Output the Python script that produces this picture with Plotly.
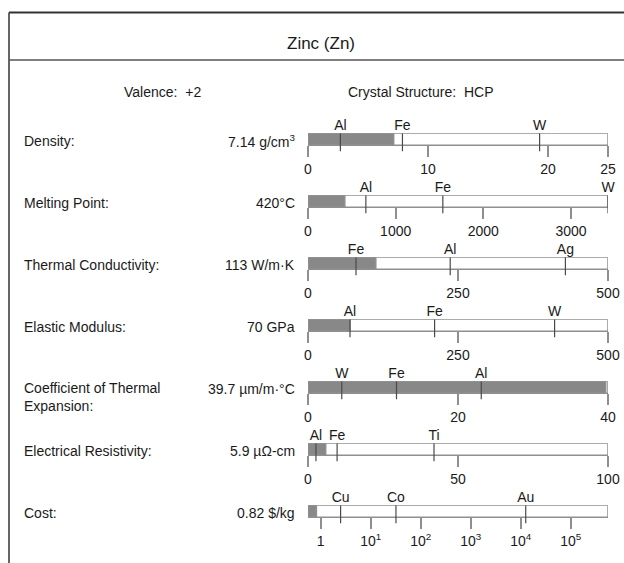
import plotly.graph_objects as go
import math

W, H = 624, 563

# ---------------- data ----------------
title_text = "Zinc (Zn)"
valence_text = "Valence:  +2"
crystal_text = "Crystal Structure:  HCP"

properties = ["Density:", "Melting Point:", "Thermal Conductivity:", "Elastic Modulus:",
              "Coefficient of Thermal<br>Expansion:", "Electrical Resistivity:", "Cost:"]
value_labels = ["7.14 g/cm<sup>3</sup>", "420°C", "113 W/m·K", "70 GPa",
                "39.7 µm/m·°C", "5.9 µΩ-cm", "0.82 $/kg"]
zn_values = [7.14, 420, 113, 70, 39.7, 5.9, 0.82]
scale_min = [0, 0, 0, 0, 0, 0, 0.557]
scale_max = [25, 3422, 500, 500, 40, 100, 557000]
log_scale = [False, False, False, False, False, False, True]

ref_names = [["Al", "Fe", "W"], ["Al", "Fe", "W"], ["Fe", "Al", "Ag"], ["Al", "Fe", "W"],
             ["W", "Fe", "Al"], ["Al", "Fe", "Ti"], ["Cu", "Co", "Au"]]
ref_values = [[2.70, 7.87, 19.3], [660, 1538, 3422], [80, 237, 429], [70, 211, 411],
              [4.5, 11.8, 23.1], [2.65, 9.7, 42], [2.5, 32, 12600]]

tick_vals = [[0, 10, 20, 25], [0, 1000, 2000, 3000], [0, 250, 500], [0, 250, 500],
             [0, 20, 40], [0, 50, 100], [1, 10, 100, 1000, 10000, 100000]]
tick_text = [["0", "10", "20", "25"], ["0", "1000", "2000", "3000"], ["0", "250", "500"],
             ["0", "250", "500"], ["0", "20", "40"], ["0", "50", "100"],
             ["1", "10<sup>1</sup>", "10<sup>2</sup>", "10<sup>3</sup>", "10<sup>4</sup>", "10<sup>5</sup>"]]

# ---------------- layout geometry (pixels) ----------------
FONT = "Liberation Sans, Arial, Helvetica, sans-serif"
TXT = "#1a1a1a"
FS = 14
bar_x0, bar_x1 = 308, 608
first_top, row_step, bar_h, ext = 133.3, 62, 12, 6.2

def py(px):
    return 1 - px / H

def pxx(px):
    return px / W

fig = go.Figure()
layout_axes = {}
annotations = []

for i in range(len(properties)):
    top = first_top + row_step * i
    bottom = top + bar_h
    n = i + 1
    xa = "x" if n == 1 else f"x{n}"
    ya = "y" if n == 1 else f"y{n}"
    xkey = "xaxis" if n == 1 else f"xaxis{n}"
    ykey = "yaxis" if n == 1 else f"yaxis{n}"

    lo, hi = scale_min[i], scale_max[i]
    # background (full scale) box
    fig.add_trace(go.Bar(x=[hi - lo], y=[0.5], base=[lo], width=[1], orientation="h",
                         marker=dict(color="white", line=dict(color="#8f8f8f", width=1.5)),
                         xaxis=xa, yaxis=ya, hoverinfo="skip", showlegend=False))
    # zinc value bar
    fig.add_trace(go.Bar(x=[zn_values[i] - lo], y=[0.5], base=[lo], width=[1], orientation="h",
                         marker=dict(color="#888888", line=dict(color="#8f8f8f", width=1.5)),
                         xaxis=xa, yaxis=ya, hoverinfo="skip", showlegend=False))
    # reference element lines
    lx, ly = [], []
    for v in ref_values[i]:
        lx += [v, v, None]
        ly += [-0.52, 1, None]
    fig.add_trace(go.Scatter(x=lx, y=ly, mode="lines", line=dict(color="#4a4a4a", width=1.2),
                             xaxis=xa, yaxis=ya, hoverinfo="skip", showlegend=False))
    # reference element labels
    fig.add_trace(go.Scatter(x=ref_values[i], y=[1] * len(ref_values[i]), mode="text",
                             text=ref_names[i], textposition="top center",
                             textfont=dict(family=FONT, size=FS, color=TXT),
                             cliponaxis=False, xaxis=xa, yaxis=ya, hoverinfo="skip",
                             showlegend=False))

    if log_scale[i]:
        xr = [math.log10(lo), math.log10(hi)]
        xtype = "log"
    else:
        xr = [lo, hi]
        xtype = "linear"

    layout_axes[xkey] = dict(domain=[pxx(bar_x0), pxx(bar_x1)], range=xr, type=xtype,
                             anchor="free", position=py(bottom),
                             tickmode="array", tickvals=tick_vals[i], ticktext=tick_text[i],
                             ticks="outside", ticklen=11, tickwidth=1.5, tickcolor="#8f8f8f",
                             tickfont=dict(family=FONT, size=FS, color=TXT),
                             showgrid=False, zeroline=False, showline=False, fixedrange=True,
                             automargin=False)
    layout_axes[ykey] = dict(domain=[py(bottom + ext), py(top)], range=[-0.52, 1],
                             visible=False, fixedrange=True)

    center = (top + bottom) / 2
    if "<br>" in properties[i]:
        annotations.append(dict(text=properties[i], xref="paper", yref="paper",
                                x=pxx(22), y=py(center - 9.5), xanchor="left", yanchor="top",
                                align="left", showarrow=False,
                                font=dict(family=FONT, size=FS, color=TXT)))
    else:
        annotations.append(dict(text=properties[i], xref="paper", yref="paper",
                                x=pxx(22), y=py(center + 1.5), xanchor="left", yanchor="middle",
                                align="left", showarrow=False,
                                font=dict(family=FONT, size=FS, color=TXT)))
    annotations.append(dict(text=value_labels[i], xref="paper", yref="paper",
                            x=pxx(297), y=py(center + 1.5), xanchor="right", yanchor="middle",
                            showarrow=False, font=dict(family=FONT, size=FS, color=TXT)))

annotations.append(dict(text=title_text, xref="paper", yref="paper", x=pxx(321), y=py(43),
                        xanchor="center", yanchor="middle", showarrow=False,
                        font=dict(family=FONT, size=17, color=TXT)))
annotations.append(dict(text=valence_text, xref="paper", yref="paper", x=pxx(122), y=py(92),
                        xanchor="left", yanchor="middle", showarrow=False,
                        font=dict(family=FONT, size=FS, color=TXT)))
annotations.append(dict(text=crystal_text, xref="paper", yref="paper", x=pxx(346), y=py(92),
                        xanchor="left", yanchor="middle", showarrow=False,
                        font=dict(family=FONT, size=FS, color=TXT)))

shapes = [
    dict(type="line", xref="paper", yref="paper", x0=pxx(9), x1=1, y0=py(12.5), y1=py(12.5),
         line=dict(color="#333", width=2)),
    dict(type="line", xref="paper", yref="paper", x0=pxx(9), x1=pxx(9), y0=py(12.5), y1=0,
         line=dict(color="#333", width=1.5)),
    dict(type="line", xref="paper", yref="paper", x0=pxx(9), x1=1, y0=py(60), y1=py(60),
         line=dict(color="#555", width=1.5)),
]

fig.update_layout(width=W, height=H, margin=dict(l=0, r=0, t=0, b=0, autoexpand=False),
                  paper_bgcolor="white", plot_bgcolor="rgba(0,0,0,0)",
                  barmode="overlay", showlegend=False,
                  annotations=annotations, shapes=shapes, **layout_axes)

fig.write_html("out.html")
